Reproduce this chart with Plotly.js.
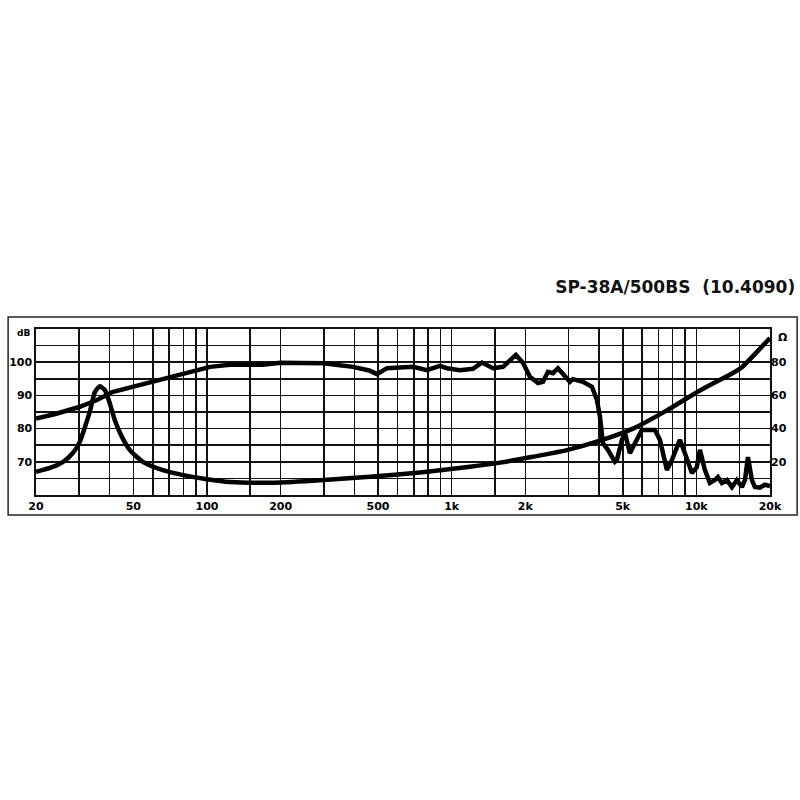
<!DOCTYPE html>
<html>
<head>
<meta charset="utf-8">
<script src="https://cdn.plot.ly/plotly-3.0.1.min.js"></script>
<style>html,body{margin:0;padding:0;background:#fff;}#chart{width:800px;height:800px;}</style>
</head>
<body>
<div id="chart"></div>
<script>
// Frequency response (dB, left axis)
const splFreq = [20, 24, 30, 35.5, 41, 53, 71, 85, 103, 124, 169, 199, 247, 298, 395, 460, 495, 544, 695, 792, 895, 956, 1081, 1221, 1330, 1475, 1620, 1830, 1955, 2088, 2252, 2361, 2474, 2594, 2718, 2904, 3043, 3130, 3440, 3744, 3924, 4036, 4152, 4350, 4646, 4734, 4963, 5106, 5352, 5611, 5990, 6460, 6772, 7098, 7580, 7945, 8568, 8980, 9592, 10050, 10340, 10840, 11360, 11910, 12250, 12720, 13330, 13980, 14650, 15360, 15800, 16250, 16870, 17350, 18190, 19060, 20000];
const splDb = [83, 84.4, 86.5, 88.6, 91, 93.1, 95.5, 97, 98.6, 99.2, 99.2, 99.8, 99.9, 99.7, 98.6, 97.5, 96.4, 98.2, 98.6, 97.6, 98.9, 98.2, 97.6, 98, 99.9, 98.2, 98.6, 102.2, 99.8, 95.6, 93.7, 94.1, 97.1, 96.7, 98.2, 95.6, 94.1, 94.9, 94.1, 92.6, 88.6, 83.6, 75.6, 73.6, 70, 70.5, 76.6, 78.7, 72.6, 75.6, 79.6, 79.6, 79.6, 76.6, 67.5, 70.5, 76.6, 72.6, 66.6, 68.4, 73.6, 67.5, 63.6, 64.5, 65.4, 63.6, 64.5, 62.4, 64.5, 62.4, 64.5, 71.4, 64.5, 62.4, 62.2, 63.1, 62.7];

// Impedance (Ohm, right axis)
const impFreq = [20, 22.8, 25.8, 28.3, 30.2, 31.7, 33.3, 34.8, 36.5, 38.3, 40.1, 42, 44.9, 48.4, 54.7, 66, 80, 100, 124, 181, 271, 463, 742, 1187, 1575, 2148, 2958, 4036, 5506, 7580, 10340, 14110, 15360, 20000];
const impOhm = [14, 16.3, 20, 25.3, 32, 41, 51, 62, 65.5, 63, 55, 45, 35, 27, 20, 15, 12, 9.5, 7.8, 7.4, 8.6, 11, 13.6, 17, 19.5, 23, 27, 32.7, 40, 51, 63, 73.5, 77, 94.6];

// Axis ticks / grid
const xGridVals = [20, 30, 40, 50, 60, 70, 80, 90, 100, 150, 200, 300, 400, 500, 600, 700, 800, 900, 1000, 1500, 2000, 3000, 4000, 5000, 6000, 7000, 8000, 9000, 10000, 15000, 20000];
const xTickText = ['20', '', '', '50', '', '', '', '', '100', '', '200', '', '', '500', '', '', '', '', '1k', '', '2k', '', '', '5k', '', '', '', '', '10k', '', '20k'];
const yGridVals = [60, 65, 70, 75, 80, 85, 90, 95, 100, 105, 110];
const yTickText = ['', '', '70', '', '80', '', '90', '', '100', '', ''];
const y2TickVals = [20, 40, 60, 80];
const y2TickText = ['20', '40', '60', '80'];
const chartTitle = 'SP-38A/500BS\u00a0\u00a0(10.4090)';

const tickFont = {family: 'DejaVu Sans', size: 11, color: '#000', weight: 'bold'};

const traces = [
  {x: splFreq, y: splDb, type: 'scatter', mode: 'lines', line: {color: '#000', width: 4.5}, yaxis: 'y', hoverinfo: 'skip'},
  {x: impFreq, y: impOhm, type: 'scatter', mode: 'lines', line: {color: '#000', width: 4.5, shape: 'spline', smoothing: 0.6}, yaxis: 'y2', hoverinfo: 'skip'}
];

const layout = {
  width: 800, height: 800,
  paper_bgcolor: '#fff', plot_bgcolor: '#fff',
  showlegend: false,
  margin: {l: 36, r: 30, t: 329, b: 305, pad: 0},
  title: {text: chartTitle, x: 0.994, xanchor: 'right', xref: 'container', y: 0.641, yanchor: 'middle', yref: 'container',
          font: {family: 'DejaVu Sans', size: 17, color: '#111', weight: 'bold'}},
  xaxis: {type: 'log', range: [Math.log10(20), Math.log10(20000)], tickmode: 'array', tickvals: xGridVals, ticktext: xTickText,
          showgrid: true, gridcolor: '#111', gridwidth: 1.6, zeroline: false, showline: true, linecolor: '#111', linewidth: 1.6, mirror: true,
          ticks: '', tickfont: tickFont, fixedrange: true},
  yaxis: {range: [60, 110], tickmode: 'array', tickvals: yGridVals, ticktext: yTickText,
          showgrid: true, gridcolor: '#111', gridwidth: 1.6, zeroline: false, showline: true, linecolor: '#111', linewidth: 1.6, mirror: true,
          ticks: '', tickfont: tickFont, fixedrange: true},
  yaxis2: {range: [0, 100], overlaying: 'y', side: 'right', tickmode: 'array', tickvals: y2TickVals, ticktext: y2TickText,
           showgrid: false, zeroline: false, showline: false, ticks: '', tickfont: tickFont, fixedrange: true},
  annotations: [
    {text: 'dB', xref: 'paper', yref: 'paper', x: -0.005, y: 0.975, xanchor: 'right', yanchor: 'middle', showarrow: false, font: {family: 'DejaVu Sans', size: 9, color: '#000', weight: 'bold'}},
    {text: 'Ω', xref: 'paper', yref: 'paper', x: 1.008, y: 0.95, xanchor: 'left', yanchor: 'middle', showarrow: false, font: {family: 'DejaVu Sans', size: 11, color: '#000', weight: 'bold'}}
  ],
  shapes: [
    {type: 'rect', xref: 'paper', yref: 'paper', x0: -0.038, x1: 1.037, y0: -0.12, y1: 1.072, line: {color: '#222', width: 1.5}, fillcolor: 'rgba(0,0,0,0)', layer: 'below'}
  ]
};

Plotly.newPlot('chart', traces, layout, {displayModeBar: false, staticPlot: true});
</script>
</body>
</html>
